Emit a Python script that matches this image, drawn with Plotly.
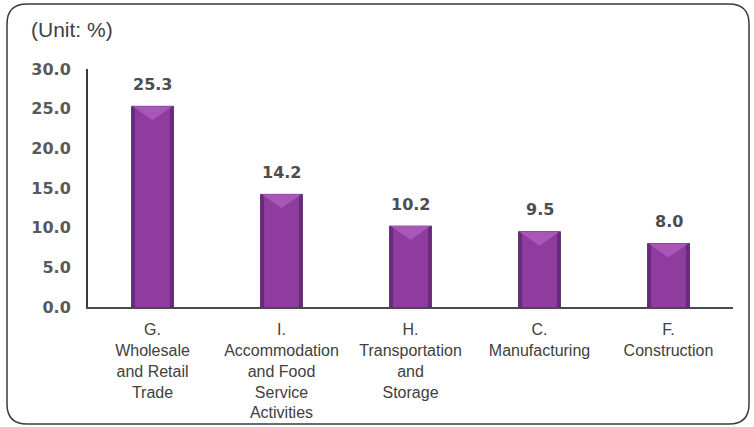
import plotly.graph_objects as go

# ---- data ----
categories = [
    "G.<br>Wholesale<br>and Retail<br>Trade",
    "I.<br>Accommodation<br>and Food<br>Service<br>Activities",
    "H.<br>Transportation<br>and<br>Storage",
    "C.<br>Manufacturing",
    "F.<br>Construction",
]
values = [25.3, 14.2, 10.2, 9.5, 8.0]
y_ticks = [0, 5, 10, 15, 20, 25, 30]
unit_label = "(Unit: %)"

# ---- layout constants ----
W, H = 754, 427
ML, MR, MT, MB = 88, 21, 69, 120
PW, PH = W - ML - MR, H - MT - MB
BAR_W = 0.325
INNER_W = 0.27

idx = list(range(len(categories)))

fig = go.Figure()
fig.add_trace(go.Bar(x=idx, y=values, width=BAR_W,
                     marker=dict(color="#6A2A7E", line=dict(width=0.8, color="#4E1A5E")),
                     hoverinfo="skip", showlegend=False))
fig.add_trace(go.Bar(x=idx, y=values, width=INNER_W,
                     marker=dict(color="#8E3D9F", line=dict(width=0)),
                     showlegend=False))

shapes = []
# bevel top triangle on each bar, placed via data axes
tri_h = 14 / PH * 30  # ~14px in data units
for i, v in zip(idx, values):
    x0, x1 = i - BAR_W / 2 + 0.008, i + BAR_W / 2 - 0.008
    shapes.append(dict(type="path", xref="x", yref="y",
                       path=f"M {x0} {v} L {x1} {v} L {i} {v - tri_h} Z",
                       fillcolor="#A955BA", line=dict(width=0), layer="above"))

# rounded outer border (paper coords from pixels)
def px(x):
    return (x - ML) / PW

def py(y):
    return (MT + PH - y) / PH

bx0, bx1, by0, by1, r = 7, 749, 4, 424, 20
path = (f"M {px(bx0 + r)} {py(by0)} L {px(bx1 - r)} {py(by0)} "
        f"Q {px(bx1)} {py(by0)} {px(bx1)} {py(by0 + r)} "
        f"L {px(bx1)} {py(by1 - r)} Q {px(bx1)} {py(by1)} {px(bx1 - r)} {py(by1)} "
        f"L {px(bx0 + r)} {py(by1)} Q {px(bx0)} {py(by1)} {px(bx0)} {py(by1 - r)} "
        f"L {px(bx0)} {py(by0 + r)} Q {px(bx0)} {py(by0)} {px(bx0 + r)} {py(by0)} Z")
shapes.append(dict(type="path", xref="paper", yref="paper", path=path,
                   line=dict(color="#3A3A3A", width=1.5), fillcolor="rgba(0,0,0,0)"))

annotations = []
for i, v in zip(idx, values):
    annotations.append(dict(x=i, y=v, xref="x", yref="y", text=f"{v:.1f}",
                            showarrow=False, yshift=22,
                            font=dict(family="DejaVu Sans", size=16, color="#4D4D4D",
                                      weight="bold")))
annotations.append(dict(x=px(29), y=py(30), xref="paper", yref="paper",
                        text=unit_label, showarrow=False, xanchor="left", yanchor="middle",
                        font=dict(family="Liberation Sans, Arial", size=21, color="#404040")))

fig.update_layout(
    width=W, height=H,
    margin=dict(l=ML, r=MR, t=MT, b=MB),
    paper_bgcolor="white", plot_bgcolor="white",
    barmode="overlay",
    shapes=shapes, annotations=annotations,
    xaxis=dict(tickmode="array", tickvals=idx, ticktext=categories,
               range=[-0.5, len(categories) - 0.5], automargin=False,
               showline=True, linecolor="#4A4A4A", linewidth=2,
               showgrid=False, zeroline=False, ticks="",
               ticklabelstandoff=7,
               tickfont=dict(family="Liberation Sans, Arial", size=16, color="#404040")),
    yaxis=dict(range=[0, 30], tickvals=y_ticks, tickformat=".1f", automargin=False,
               showline=True, linecolor="#3A3A3A", linewidth=2,
               showgrid=False, zeroline=False, ticks="",
               ticklabelstandoff=12,
               tickfont=dict(family="DejaVu Sans", size=16, color="#595959",
                             weight="bold")),
)

fig.write_html("out.html", config={"displayModeBar": False},
               post_script="document.body.style.margin='0';document.body.style.overflow='hidden';")
